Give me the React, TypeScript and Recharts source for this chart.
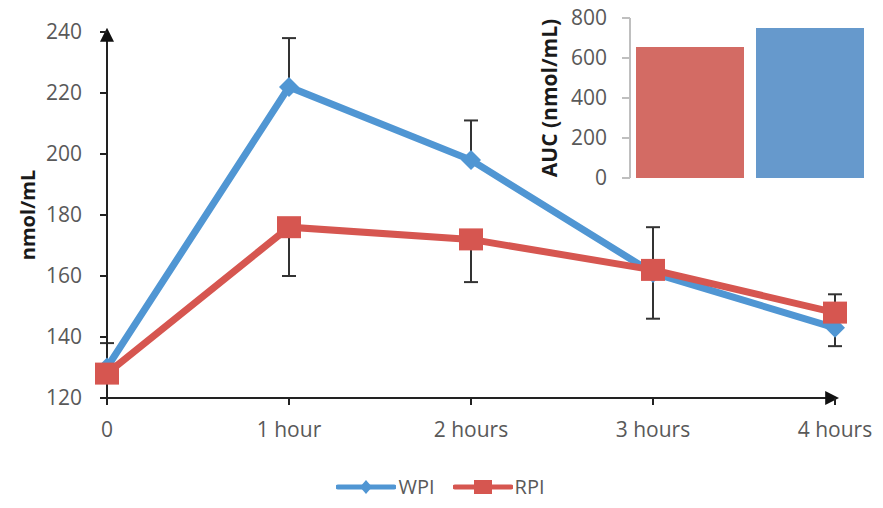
import React from 'react';
import { LineChart, Line, XAxis, YAxis, ErrorBar, Legend, BarChart, Bar, Cell } from 'recharts';

const timepoints = ['0', '1 hour', '2 hours', '3 hours', '4 hours'];
const wpiValues = [130, 222, 198, 161, 143];
const wpiErrors = [[0, 8], [0, 16], [0, 13], [0, 15], [6, 0]];
const rpiValues = [128, 176, 172, 162, 148];
const rpiErrors = [[8, 0], [16, 0], [14, 0], [16, 0], [0, 6]];
const yTicks = [120, 140, 160, 180, 200, 220, 240];

const aucGroups = ['RPI', 'WPI'];
const aucValues = [655, 750];
const aucColors = ['#D36B64', '#6699CC'];
const aucTicks = [0, 200, 400, 600, 800];

const BLUE = '#5096D3';
const RED = '#D65650';
const FONT = '"Open Sans", sans-serif';

const lineData = timepoints.map((t, i) => ({
  t,
  wpi: wpiValues[i],
  wpiErr: wpiErrors[i],
  rpi: rpiValues[i],
  rpiErr: rpiErrors[i],
}));

const aucData = aucGroups.map((name, i) => ({ name, auc: aucValues[i] }));

const renderDiamond = (props: any) => {
  const { cx, cy, index } = props;
  return (
    <path
      key={`wpi-dot-${index}`}
      d={`M${cx},${cy - 10}L${cx + 10},${cy}L${cx},${cy + 10}L${cx - 10},${cy}Z`}
      fill={BLUE}
    />
  );
};

const renderSquare = (props: any) => {
  const { cx, cy, index } = props;
  return <rect key={`rpi-dot-${index}`} x={cx - 12} y={cy - 11} width={24} height={22} fill={RED} />;
};

const RotatedLabel = ({ viewBox, value, dx, fontSize }: any) => {
  const x = viewBox.x + dx;
  const y = viewBox.y + viewBox.height / 2;
  return (
    <text
      x={x}
      y={y}
      transform={`rotate(-90, ${x}, ${y})`}
      textAnchor="middle"
      dominantBaseline="central"
      fontFamily={FONT}
      fontWeight="bold"
      fontSize={fontSize}
      fill="#1a1a1a"
    >
      {value}
    </text>
  );
};

const LegendContent = () => (
  <div
    style={{
      height: 48,
      paddingTop: 30,
      paddingLeft: 46,
      boxSizing: 'border-box',
      display: 'flex',
      justifyContent: 'center',
      alignItems: 'center',
      fontFamily: FONT,
      fontSize: 20,
      color: '#595959',
      lineHeight: '20px',
    }}
  >
    <svg width={60} height={20}>
      <line x1={2} y1={10} x2={58} y2={10} stroke={BLUE} strokeWidth={5} strokeLinecap="round" />
      <path d="M30,3L36,10L30,17L24,10Z" fill={BLUE} />
    </svg>
    <span style={{ marginLeft: 2, marginRight: 18 }}>WPI</span>
    <svg width={60} height={20}>
      <line x1={2} y1={10} x2={58} y2={10} stroke={RED} strokeWidth={5} strokeLinecap="round" />
      <rect x={21} y={3} width={18} height={14} fill={RED} />
    </svg>
    <span style={{ marginLeft: 2 }}>RPI</span>
  </div>
);

export default function App() {
  return (
    <div style={{ position: 'absolute', left: 0, top: 0, width: 883, height: 508, background: '#fff' }}>
      <svg width={0} height={0} style={{ position: 'absolute' }}>
        <defs>
          <marker
            id="axisArrow"
            viewBox="0 0 10 10"
            refX={7}
            refY={5}
            markerWidth={7}
            markerHeight={7}
            orient="auto-start-reverse"
          >
            <path d="M0,0L10,5L0,10Z" fill="#111" />
          </marker>
        </defs>
      </svg>

      <LineChart width={883} height={508} data={lineData} margin={{ top: 32, right: 48, left: 0, bottom: 12 }}>
        <XAxis
          dataKey="t"
          scale="point"
          padding={{ left: 0, right: 0 }}
          height={50}
          axisLine={{ stroke: '#222', strokeWidth: 2, markerEnd: 'url(#axisArrow)' }}
          tickLine={{ stroke: '#222', strokeWidth: 2 }}
          tickSize={7}
          tickMargin={17}
          tick={{ fill: '#595959', fontSize: 21, fontFamily: FONT }}
          interval={0}
        />
        <YAxis
          width={107}
          domain={[120, 240]}
          ticks={yTicks}
          interval={0}
          allowDataOverflow
          axisLine={{ stroke: '#222', strokeWidth: 2, markerStart: 'url(#axisArrow)' }}
          tickLine={{ stroke: '#222', strokeWidth: 2 }}
          tickSize={7}
          tickMargin={18}
          tick={{ fill: '#595959', fontSize: 21, fontFamily: FONT }}
          label={<RotatedLabel value="nmol/mL" dx={27} fontSize={20} />}
        />
        <Legend verticalAlign="bottom" content={<LegendContent />} />
        <Line
          dataKey="wpi"
          name="WPI"
          stroke={BLUE}
          strokeWidth={7}
          dot={renderDiamond}
          activeDot={false}
          isAnimationActive={false}
        >
          <ErrorBar dataKey="wpiErr" direction="y" width={7} stroke="#333" strokeWidth={2} isAnimationActive={false} />
        </Line>
        <Line
          dataKey="rpi"
          name="RPI"
          stroke={RED}
          strokeWidth={7}
          dot={renderSquare}
          activeDot={false}
          isAnimationActive={false}
        >
          <ErrorBar dataKey="rpiErr" direction="y" width={7} stroke="#333" strokeWidth={2} isAnimationActive={false} />
        </Line>
      </LineChart>

      <div style={{ position: 'absolute', left: 520, top: 0 }}>
        <BarChart width={363} height={200} data={aucData} margin={{ top: 18, right: 13, left: 0, bottom: 22 }} barCategoryGap="5%">
          <XAxis dataKey="name" hide />
          <YAxis
            width={110}
            domain={[0, 800]}
            ticks={aucTicks}
            interval={0}
            axisLine={{ stroke: '#BFBFBF', strokeWidth: 2 }}
            tickLine={{ stroke: '#BFBFBF', strokeWidth: 2 }}
            tickSize={8}
            tickMargin={15}
            tick={{ fill: '#595959', fontSize: 21, fontFamily: FONT }}
            label={<RotatedLabel value="AUC (nmol/mL)" dx={29} fontSize={21} />}
          />
          <Bar dataKey="auc" isAnimationActive={false}>
            {aucData.map((d, i) => (
              <Cell key={d.name} fill={aucColors[i]} />
            ))}
          </Bar>
        </BarChart>
      </div>
    </div>
  );
}
